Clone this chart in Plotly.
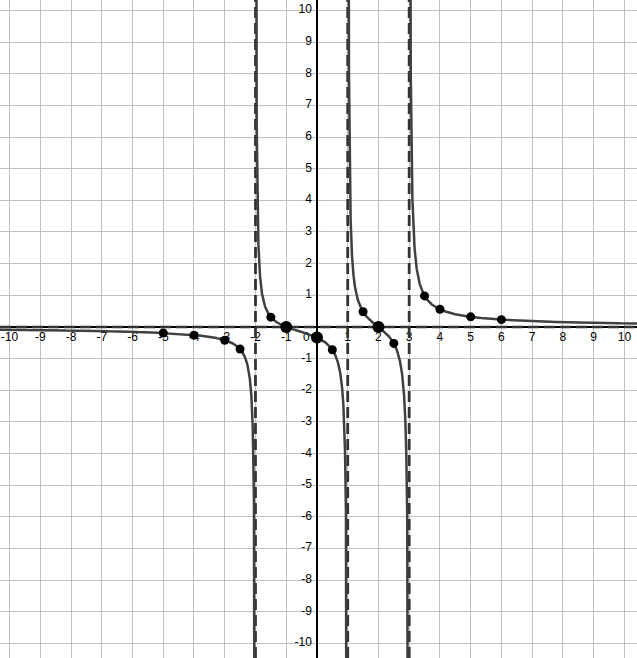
import numpy as np
import plotly.graph_objects as go

# Rational function: zeros and vertical asymptotes
zeros = [-1, 2]
poles = [-2, 1, 3]
h_asymptote = 0

# Marked points
pt_x = [-5, -4, -3, -2.5, -1.5, 0.5, 1.5, 2.5, 3.5, 4, 5, 6]
pt_y = [-0.19, -0.26, -0.42, -0.70, 0.31, -0.72, 0.48, -0.52, 0.98, 0.56, 0.32, 0.23]
big_x = [-1, 0, 2]
big_y = [0, -0.33, 0]

x_ticks = [-10, -9, -8, -7, -6, -5, -4, -3, -2, -1, 1, 2, 3, 4, 5, 6, 7, 8, 9, 10]
y_ticks = [-10, -9, -8, -7, -6, -5, -4, -3, -2, -1, 1, 2, 3, 4, 5, 6, 7, 8, 9, 10]

X_RANGE = [-10.31, 10.41]
Y_RANGE = [-10.46, 10.33]
W, H = 637, 658
ppx = W / (X_RANGE[1] - X_RANGE[0])
ppy = H / (Y_RANGE[1] - Y_RANGE[0])

CURVE = "#404040"
ASYM = "#333333"
FONT = dict(family="Liberation Sans, Arial, sans-serif", size=12, color="black")

def f(x):
    num = np.ones_like(x)
    for z in zeros:
        num = num * (x - z)
    den = np.ones_like(x)
    for p in poles:
        den = den * (x - p)
    return num / den

fig = go.Figure()

# tick labels (under the curves)
fig.add_trace(go.Scatter(
    x=x_ticks, y=[-11 / ppy] * len(x_ticks), mode="text",
    text=[str(t) for t in x_ticks], textposition="middle center",
    textfont=FONT, hoverinfo="skip", showlegend=False))
fig.add_trace(go.Scatter(
    x=[-5 / ppx] * len(y_ticks), y=y_ticks, mode="text",
    text=[str(t) for t in y_ticks], textposition="middle left",
    textfont=FONT, hoverinfo="skip", showlegend=False))
fig.add_trace(go.Scatter(
    x=[-10.5 / ppx], y=[-11 / ppy], mode="text", text=["0"],
    textposition="middle center", textfont=FONT,
    hoverinfo="skip", showlegend=False))

# asymptotes
dash = "11px,5px"
fig.add_trace(go.Scatter(x=X_RANGE, y=[h_asymptote, h_asymptote], mode="lines",
                         line=dict(color=ASYM, width=2.5, dash=dash),
                         hoverinfo="skip", showlegend=False))
for p in poles:
    fig.add_trace(go.Scatter(x=[p, p], y=Y_RANGE, mode="lines",
                             line=dict(color=ASYM, width=2.8, dash=dash),
                             hoverinfo="skip", showlegend=False))

# curve pieces between asymptotes
bounds = [X_RANGE[0]] + poles + [X_RANGE[1]]
for a, b in zip(bounds[:-1], bounds[1:]):
    eps = 1e-4
    xs = np.linspace(a + eps, b - eps, 4000)
    ys = f(xs)
    m = np.abs(ys) < 30
    fig.add_trace(go.Scatter(x=xs[m], y=ys[m], mode="lines",
                             line=dict(color=CURVE, width=2.5),
                             hoverinfo="skip", showlegend=False))

fig.add_trace(go.Scatter(x=pt_x, y=pt_y, mode="markers",
                         marker=dict(color="black", size=9),
                         hoverinfo="skip", showlegend=False))
fig.add_trace(go.Scatter(x=big_x, y=big_y, mode="markers",
                         marker=dict(color="black", size=12),
                         hoverinfo="skip", showlegend=False))

axis_common = dict(showgrid=True, gridcolor="#c0c0c0", gridwidth=1, dtick=1,
                   zeroline=True, zerolinecolor="black", zerolinewidth=1.5,
                   showticklabels=False, ticks="", showline=False, fixedrange=True)
fig.update_layout(
    width=W, height=H,
    margin=dict(l=0, r=0, t=0, b=0),
    paper_bgcolor="white", plot_bgcolor="white",
    xaxis=dict(range=X_RANGE, tick0=0, **axis_common),
    yaxis=dict(range=Y_RANGE, tick0=0, **axis_common),
    showlegend=False,
)

fig.write_html("out.html", config={"displayModeBar": False},
               post_script="document.body.style.margin='0';document.body.style.overflow='hidden';")
